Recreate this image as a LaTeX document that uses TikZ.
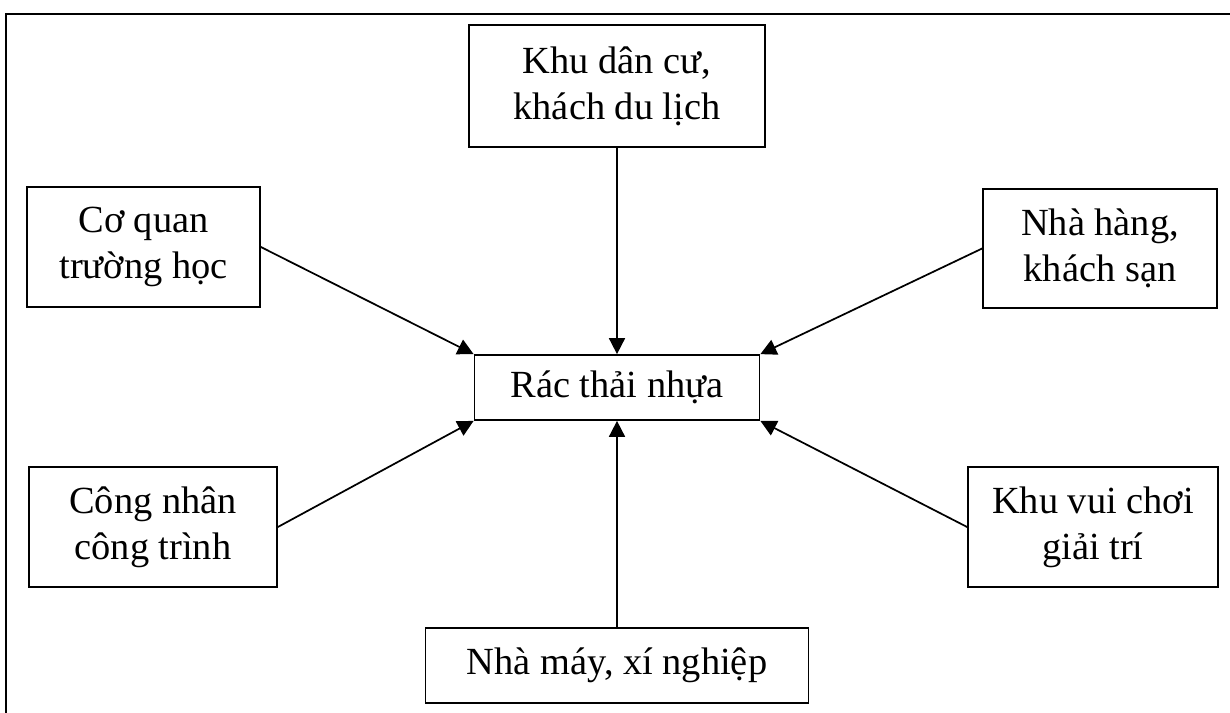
\documentclass[tikz,border=0pt]{standalone}
\usepackage{fontspec}
\setmainfont{Liberation Serif}
\usetikzlibrary{arrows.meta}
\tikzset{
  box/.style={draw=black, line width=1.3pt, inner sep=0pt, align=center,
    font=\fontsize{28.8}{34.5}\selectfont},
  arr/.style={draw=black, line width=1.3pt, -{Triangle[length=12pt,width=12pt]}},
  frame/.style={draw=black, line width=1.6pt}
}
\begin{document}
\begin{tikzpicture}[x=0.75pt, y=-0.75pt]
\useasboundingbox (0,0) rectangle (1230,713);
\draw[frame] (6,713) -- (6,14) -- (1230,14);
\node[box, minimum width=222pt, minimum height=91.5pt] (kdc) at (617,86) {Khu dân cư,\\khách du lịch};
\node[box, minimum width=174.75pt, minimum height=90pt] (cq) at (143.5,247) {Cơ quan\\trường học};
\node[box, minimum width=175.5pt, minimum height=89.25pt] (nh) at (1100,248.5) {Nhà hàng,\\khách sạn};
\node[box, minimum width=186pt, minimum height=90pt] (cn) at (153,527) {Công nhân\\công trình};
\node[box, minimum width=187.5pt, minimum height=90pt] (kv) at (1093,527) {Khu vui chơi\\giải trí};
\node[box, minimum width=213.75pt, minimum height=48.75pt] (rac) at (617,387.5) {Rác thải nhựa};
\node[box, minimum width=287.25pt, minimum height=56.25pt] (nm) at (617,665.5) {Nhà máy, xí nghiệp};
\draw[arr] (kdc.south) -- (rac.north);
\draw[arr] (nm.north) -- (rac.south);
\draw[arr] (cq.east) -- (rac.north west);
\draw[arr] (nh.west) -- (rac.north east);
\draw[arr] (cn.east) -- (rac.south west);
\draw[arr] (kv.west) -- (rac.south east);
\end{tikzpicture}
\end{document}
